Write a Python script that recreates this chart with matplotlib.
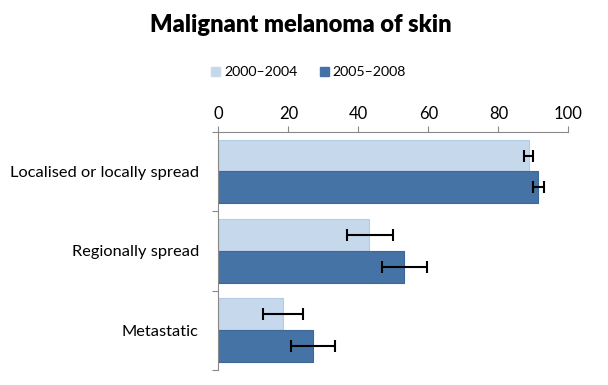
import matplotlib
matplotlib.use('Agg')
from matplotlib import pyplot as plt
from matplotlib.patches import Patch
import numpy as np

plt.rcParams['font.family'] = ['Lato', 'DejaVu Sans']

categories = ['Localised or locally spread', 'Regionally spread', 'Metastatic']
periods = ['2000\u20132004', '2005\u20132008']

# survival (%) and 95% CI bounds per period
surv_0004 = [88.6, 43.1, 18.4]
low_0004 = [87.2, 36.7, 12.7]
high_0004 = [90.0, 49.8, 24.2]

surv_0508 = [91.4, 53.1, 27.1]
low_0508 = [90.0, 46.7, 20.7]
high_0508 = [92.9, 59.6, 33.4]

light = '#c5d8ec'
dark = '#4673a5'


def main():
    fig = plt.figure(figsize=(6.08, 3.85), dpi=100)
    ax = fig.add_axes([0.359, 0.039, 0.576, 0.619])

    y = np.arange(len(categories))
    h = 0.4
    series = [
        (surv_0004, low_0004, high_0004, light, '#b3cbe5', -h / 2),
        (surv_0508, low_0508, high_0508, dark, '#3d6797', h / 2),
    ]
    for vals, lo, hi, color, edge, off in series:
        vals = np.array(vals)
        err = [vals - np.array(lo), np.array(hi) - vals]
        ax.barh(y + off, vals, height=h, color=color, edgecolor=edge, linewidth=0.8)
        ax.errorbar(vals, y + off, xerr=err, fmt='none', ecolor='black',
                    elinewidth=1.5, capsize=4, capthick=1.5)

    ax.set_xlim(0, 100)
    ax.set_ylim(len(categories) - 0.5, -0.5)
    ax.xaxis.tick_top()
    ax.set_xticks(range(0, 101, 20))
    ax.tick_params(axis='x', colors='#888888', labelcolor='black', labelsize=12,
                   length=4, width=0.8, pad=3)

    ax.set_yticks(y)
    ax.set_yticklabels(categories, fontsize=11.8)
    ax.set_yticks(np.arange(-0.5, len(categories)), minor=True)
    ax.tick_params(axis='y', which='major', length=0, pad=14)
    ax.tick_params(axis='y', which='minor', length=4, width=0.8, color='#888888')

    for side in ['right', 'bottom']:
        ax.spines[side].set_visible(False)
    for side in ['top', 'left']:
        ax.spines[side].set_color('#888888')
        ax.spines[side].set_linewidth(0.8)

    fig.text(0.494, 0.935, 'Malignant melanoma of skin', ha='center', va='center',
             fontsize=17, fontweight='heavy')

    handles = [Patch(facecolor=light, edgecolor=light),
               Patch(facecolor=dark, edgecolor=dark)]
    fig.legend(handles, periods, loc='center', bbox_to_anchor=(0.508, 0.812),
               ncol=2, frameon=False, fontsize=10.2, handlelength=0.6,
               handleheight=0.6, handletextpad=0.3, columnspacing=1.6)

    fig.savefig('out.png', dpi=100)


if __name__ == '__main__':
    main()
